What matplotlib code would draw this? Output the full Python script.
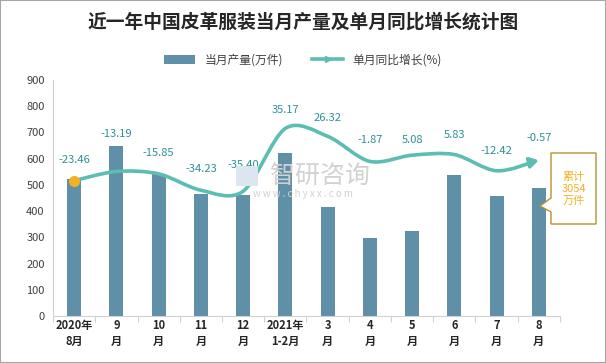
import matplotlib
matplotlib.use("Agg")
import matplotlib.pyplot as plt
import numpy as np
from matplotlib.path import Path
from matplotlib.patches import FancyArrowPatch, Polygon, Rectangle
from matplotlib.lines import Line2D
from matplotlib.patches import Patch

plt.rcParams['font.family'] = ['Noto Sans CJK SC', 'DejaVu Sans']

months = ['2020年\n8月', '9\n月', '10\n月', '11\n月', '12\n月', '2021年\n1-2月',
          '3\n月', '4\n月', '5\n月', '6\n月', '7\n月', '8\n月']
output = [522, 648, 541, 465, 462, 622, 416, 297, 324, 538, 458, 488]
growth = [-23.46, -13.19, -15.85, -34.23, -35.40, 35.17, 26.32, -1.87, 5.08, 5.83, -12.42, -0.57]
total_note = '累计\n3054\n万件'

bar_color = '#5F90A7'
line_color = '#5CBDB3'
label_color = '#2F8F96'

fig = plt.figure(figsize=(6.06, 3.63), dpi=100)
fig.patches.append(Rectangle((0, 0), 1, 1, transform=fig.transFigure, fill=False,
                             edgecolor='#A6A6A6', linewidth=1.5))
W, H = 606, 363

# watermark (behind the plot)
fig.text(320 / W, 1 - 176 / H, '智研咨询', fontsize=18, color='#D2D2D2', ha='center', va='center',
         zorder=0)
fig.text(303 / W, 1 - 194 / H, 'w w w . c h y x x . c o m', fontsize=7, color='#D2D2D2',
         ha='center', va='center', zorder=0)
fig.patches.append(Rectangle((236 / W, 1 - 186 / H), 22 / W, 20 / H, transform=fig.transFigure,
                             facecolor='#DCE6F0', edgecolor='none', zorder=0))

ax = fig.add_axes([0.0875, 0.1295, 0.8365, 0.6501])
ax.patch.set_alpha(0)
x = np.arange(len(months))
ax.bar(x, output, width=0.33, color=bar_color, zorder=2)
ax.set_xlim(-0.5, len(months) - 0.5)
ax.set_ylim(0, 900)
ax.set_yticks(range(0, 901, 100))
ax.tick_params(axis='y', length=0, labelsize=8, labelcolor='#404040', pad=6)
for s in ['top', 'right']:
    ax.spines[s].set_visible(False)
ax.spines['left'].set_color('#D0D0D0')
ax.spines['bottom'].set_color('#D0D0D0')
ax.set_xticks(np.arange(-0.5, len(months), 1))
ax.set_xticklabels([])
ax.tick_params(axis='x', which='major', length=4, color='#D0D0D0')
ax.set_xticks(x, minor=True)
ax.set_xticklabels(months, minor=True, fontsize=8, fontweight='bold', color='#262626',
                   linespacing=1.3)
ax.tick_params(axis='x', which='minor', length=0, pad=2)

# growth line on hidden secondary axis
ax2 = ax.twinx()
ax2.set_ylim(-175.4, 89.5)
ax2.axis('off')
pts = np.column_stack([x, growth]).astype(float)
verts = [tuple(pts[0])]
codes = [Path.MOVETO]
n = len(pts)
for i in range(n - 1):
    p0 = pts[i - 1] if i > 0 else pts[i]
    p1 = pts[i]
    p2 = pts[i + 1]
    p3 = pts[i + 2] if i + 2 < n else pts[i + 1]
    c1 = p1 + (p2 - p0) / 6.5
    c2 = p2 - (p3 - p1) / 6.5
    verts += [tuple(c1), tuple(c2), tuple(p2)]
    codes += [Path.CURVE4] * 3
curve = FancyArrowPatch(path=Path(verts, codes), arrowstyle='-|>,head_length=5,head_width=3',
                        color=line_color, linewidth=2.6, zorder=3)
ax2.add_patch(curve)
ax2.plot(x[0], growth[0], 'o', color='#F2B222', markersize=7, zorder=4)

offsets = [16, 32, 16, 16, 21, 13, 13, 16, 10, 15, 15, 17]
for xi, g, off in zip(x, growth, offsets):
    ax2.annotate(f'{g:.2f}', (xi, g), xytext=(0, off), textcoords='offset pixels',
                 ha='center', va='bottom', fontsize=8, color=label_color, zorder=5)

# callout box
poly = [(551, 153), (596, 153), (596, 224), (551, 224), (551, 212), (540, 206), (551, 198)]
poly = [(px / W, 1 - py / H) for px, py in poly]
fig.patches.append(Polygon(poly, closed=True, transform=fig.transFigure, facecolor='white',
                           edgecolor='#B8912A', linewidth=1.0))
fig.text(573.5 / W, 1 - 189 / H, total_note, ha='center', va='center', fontsize=8,
         color='#F2B222', linespacing=1.2)

fig.text(0.5, 1 - 22 / H, '近一年中国皮革服装当月产量及单月同比增长统计图', ha='center', va='center',
         fontsize=13.5, fontweight='bold', color='#262626')

handles = [Patch(facecolor=bar_color, edgecolor='none'),
           Line2D([0], [0], color=line_color, linewidth=2.6, marker='>', markevery=[1],
                  markersize=5)]
fig.legend(handles, ['当月产量(万件)', '单月同比增长(%)'], loc='center', bbox_to_anchor=(0.5, 1 - 60 / H),
           ncol=2, frameon=False, fontsize=8.5, handlelength=2.6, handleheight=0.8,
           columnspacing=2.5, labelcolor='#404040')

fig.savefig('out.png', dpi=100)
